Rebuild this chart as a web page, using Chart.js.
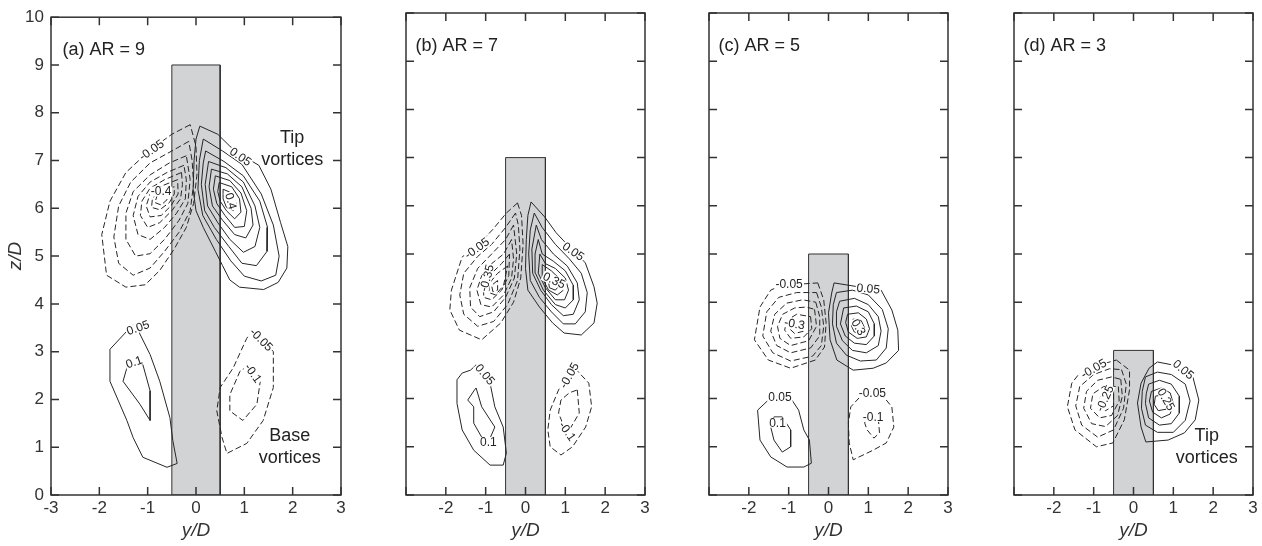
<!DOCTYPE html>
<html>
<head>
<meta charset="utf-8">
<script src="https://cdn.jsdelivr.net/npm/chart.js@4.4.1/dist/chart.umd.min.js"></script>
<style>
  body { margin: 0; background: #fff; width: 1262px; height: 546px; position: relative; overflow: hidden; }
  canvas { position: absolute; top: 0; }
</style>
</head>
<body>
<canvas id="pa" width="352" height="546" style="left:0px"></canvas>
<canvas id="pb" width="310" height="546" style="left:345px"></canvas>
<canvas id="pc" width="310" height="546" style="left:648px"></canvas>
<canvas id="pd" width="309" height="546" style="left:953px"></canvas>
<script>
// axes
const xTicks = [-3, -2, -1, 0, 1, 2, 3];
const yTicks = [0, 1, 2, 3, 4, 5, 6, 7, 8, 9, 10];
const aspectRatios = [9, 7, 5, 3]; // cylinder height in D
const panelLetters = ["a", "b", "c", "d"];

// contour levels, outer -> inner, each one a closed line of [y/D, z/D]
// (a) AR = 9
const aTipPos = [
  [[0.08,7.72],[0.45,7.55],[0.7,7.3],[1.0,7.08],[1.3,6.9],[1.55,6.4],[1.75,5.7],[1.9,5.2],[1.88,4.75],[1.7,4.45],[1.4,4.3],[0.9,4.35],[0.7,4.5],[0.55,4.8],[0.4,5.1],[0.15,5.6],[0.0,5.95],[-0.06,6.4],[-0.04,7.0],[0.0,7.45]],
  [[0.15,7.45],[0.55,7.2],[0.95,6.92],[1.35,6.3],[1.6,5.65],[1.72,5.0],[1.65,4.6],[1.35,4.48],[1.0,4.58],[0.72,4.9],[0.42,5.35],[0.14,5.85],[0.04,6.4],[0.07,7.0]],
  [[0.2,7.2],[0.58,6.98],[0.98,6.68],[1.32,6.15],[1.48,5.6],[1.47,5.1],[1.25,4.8],[0.95,4.85],[0.68,5.2],[0.38,5.6],[0.18,5.95],[0.11,6.5],[0.15,6.95]],
  [[0.26,6.98],[0.62,6.85],[0.98,6.55],[1.22,6.05],[1.32,5.6],[1.22,5.2],[0.98,5.08],[0.7,5.35],[0.45,5.7],[0.24,6.05],[0.19,6.5]],
  [[0.32,6.82],[0.65,6.72],[0.95,6.45],[1.14,6.0],[1.18,5.65],[1.03,5.38],[0.8,5.45],[0.55,5.75],[0.34,6.05],[0.27,6.45]],
  [[0.4,6.68],[0.7,6.58],[0.93,6.32],[1.05,5.95],[1.0,5.62],[0.8,5.6],[0.6,5.85],[0.43,6.1],[0.36,6.4]],
  [[0.48,6.54],[0.74,6.45],[0.9,6.2],[0.93,5.92],[0.8,5.78],[0.63,5.95],[0.5,6.15],[0.45,6.35]],
  [[0.56,6.4],[0.74,6.32],[0.83,6.1],[0.77,5.95],[0.63,6.02],[0.56,6.2]]
];
const aTipNeg = [
  [[-0.12,7.75],[-0.5,7.55],[-0.95,7.22],[-1.45,6.75],[-1.78,6.15],[-1.95,5.45],[-1.85,4.6],[-1.45,4.35],[-1.05,4.4],[-0.75,4.7],[-0.45,5.15],[-0.2,5.6],[-0.05,6.1],[0.02,6.7],[0.0,7.3]],
  [[-0.15,7.4],[-0.5,7.2],[-0.95,6.95],[-1.35,6.55],[-1.6,6.05],[-1.7,5.4],[-1.6,4.85],[-1.3,4.6],[-0.95,4.75],[-0.65,5.1],[-0.35,5.5],[-0.12,5.95],[-0.05,6.5],[-0.08,7.0]],
  [[-0.2,7.1],[-0.55,6.95],[-0.95,6.7],[-1.3,6.35],[-1.45,5.9],[-1.45,5.35],[-1.25,5.0],[-0.95,5.05],[-0.65,5.35],[-0.35,5.75],[-0.17,6.1],[-0.12,6.6]],
  [[-0.25,6.9],[-0.6,6.75],[-0.95,6.55],[-1.2,6.25],[-1.3,5.85],[-1.2,5.45],[-0.95,5.35],[-0.65,5.6],[-0.4,5.9],[-0.22,6.2],[-0.2,6.6]],
  [[-0.3,6.75],[-0.65,6.6],[-0.95,6.42],[-1.12,6.15],[-1.15,5.85],[-1.0,5.6],[-0.75,5.7],[-0.5,5.95],[-0.32,6.2],[-0.28,6.5]],
  [[-0.38,6.6],[-0.68,6.48],[-0.95,6.3],[-1.03,6.05],[-0.95,5.82],[-0.72,5.85],[-0.52,6.05],[-0.37,6.3]],
  [[-0.45,6.45],[-0.72,6.38],[-0.9,6.22],[-0.92,6.02],[-0.75,5.97],[-0.55,6.12],[-0.45,6.3]],
  [[-0.6,6.3],[-0.8,6.28],[-0.85,6.12],[-0.72,6.07],[-0.6,6.18]]
];
const aBasePos = [
  [[-1.3,3.57],[-1.22,3.49],[-0.95,2.94],[-0.75,2.38],[-0.54,1.62],[-0.48,1.14],[-0.39,0.66],[-0.6,0.58],[-1.1,0.79],[-1.3,1.2],[-1.43,1.56],[-1.78,2.38],[-1.78,3.05]],
  [[-1.43,2.8],[-1.1,2.73],[-0.95,2.18],[-0.95,1.56],[-1.16,1.9],[-1.51,2.38],[-1.43,2.66]]
];
const aBaseNeg = [
  [[1.18,3.46],[1.6,3.0],[1.6,2.25],[1.39,1.56],[1.05,1.08],[0.64,0.87],[0.54,1.2],[0.43,1.76],[0.5,2.25],[0.77,2.66],[1.05,3.28]],
  [[1.12,2.74],[1.33,2.38],[1.26,1.9],[0.97,1.56],[0.7,1.76],[0.7,2.1],[0.91,2.59]]
];

// (b) AR = 7
const bTipPos = [
  [[0.14,6.08],[0.48,5.77],[0.77,5.44],[1.18,5.08],[1.5,4.82],[1.72,4.32],[1.8,3.98],[1.72,3.57],[1.4,3.32],[0.97,3.36],[0.68,3.57],[0.35,3.9],[0.06,4.25],[0.0,4.7],[0.02,5.3],[0.06,5.8]],
  [[0.22,5.85],[0.42,5.55],[0.75,5.2],[1.1,4.9],[1.4,4.6],[1.55,4.2],[1.5,3.8],[1.25,3.55],[0.95,3.55],[0.65,3.8],[0.35,4.1],[0.12,4.45],[0.08,5.0],[0.12,5.5]],
  [[0.27,5.6],[0.4,5.3],[0.7,5.0],[1.05,4.75],[1.3,4.4],[1.35,4.05],[1.2,3.75],[0.95,3.72],[0.65,3.95],[0.38,4.25],[0.18,4.6],[0.16,5.1]],
  [[0.32,5.3],[0.42,5.0],[0.7,4.85],[1.0,4.65],[1.2,4.35],[1.2,4.05],[1.0,3.88],[0.75,3.95],[0.45,4.25],[0.25,4.6],[0.24,5.0]],
  [[0.36,5.0],[0.5,4.8],[0.75,4.7],[1.0,4.5],[1.08,4.25],[0.98,4.05],[0.75,4.05],[0.5,4.3],[0.32,4.6]],
  [[0.42,4.78],[0.65,4.65],[0.9,4.45],[0.95,4.25],[0.8,4.15],[0.58,4.25],[0.42,4.5]],
  [[0.55,4.6],[0.75,4.5],[0.85,4.35],[0.75,4.25],[0.6,4.3]]
];
const bTipNeg = [
  [[-0.2,6.06],[-0.48,5.85],[-0.83,5.5],[-1.24,5.15],[-1.59,4.94],[-1.86,4.25],[-1.9,3.84],[-1.66,3.42],[-1.1,3.22],[-0.62,3.57],[-0.3,4.0],[-0.12,4.5],[-0.06,5.2],[-0.1,5.8]],
  [[-0.25,5.85],[-0.5,5.55],[-0.85,5.2],[-1.2,4.95],[-1.55,4.6],[-1.65,4.15],[-1.55,3.75],[-1.2,3.5],[-0.8,3.6],[-0.45,3.95],[-0.2,4.45],[-0.14,5.1],[-0.18,5.6]],
  [[-0.3,5.6],[-0.5,5.3],[-0.85,5.0],[-1.2,4.7],[-1.4,4.3],[-1.38,3.9],[-1.15,3.7],[-0.8,3.8],[-0.5,4.1],[-0.28,4.5],[-0.22,5.0]],
  [[-0.35,5.3],[-0.55,5.0],[-0.85,4.8],[-1.1,4.55],[-1.22,4.25],[-1.12,3.95],[-0.85,3.9],[-0.55,4.15],[-0.35,4.5],[-0.3,4.9]],
  [[-0.4,5.0],[-0.6,4.8],[-0.85,4.6],[-1.05,4.35],[-1.05,4.1],[-0.85,4.05],[-0.6,4.25],[-0.42,4.55]],
  [[-0.45,4.75],[-0.7,4.6],[-0.9,4.4],[-0.92,4.2],[-0.75,4.15],[-0.55,4.35]],
  [[-0.7,4.45],[-0.85,4.35],[-0.82,4.22],[-0.7,4.25]]
];
const bBasePos = [
  [[-1.24,2.7],[-0.89,2.32],[-0.77,1.83],[-0.56,1.41],[-0.48,0.87],[-0.56,0.62],[-0.89,0.62],[-1.3,0.93],[-1.59,1.35],[-1.72,1.9],[-1.72,2.39],[-1.59,2.53],[-1.38,2.59]],
  [[-1.24,2.22],[-1.1,1.83],[-0.77,1.41],[-0.93,1.1],[-1.1,1.2],[-1.3,1.49],[-1.3,1.83],[-1.45,1.97],[-1.28,2.18]]
];
const bBaseNeg = [
  [[1.24,2.63],[1.59,2.32],[1.66,1.83],[1.51,1.41],[1.18,1.0],[0.89,0.83],[0.62,1.0],[0.56,1.35],[0.62,1.76],[0.83,2.18],[1.04,2.45]],
  [[1.3,2.18],[1.35,1.7],[1.1,1.35],[0.97,1.41],[0.83,1.7],[0.89,1.97],[1.1,2.12]]
];

// (c) AR = 5
const cTipPos = [
  [[0.14,4.4],[0.97,4.29],[1.32,4.25],[1.59,3.84],[1.74,3.42],[1.76,3.0],[1.45,2.74],[1.12,2.63],[0.62,2.59],[0.21,2.8],[0.04,3.22],[0.0,3.78],[0.08,4.19]],
  [[0.2,4.2],[0.6,4.25],[1.0,4.15],[1.35,3.85],[1.5,3.45],[1.45,3.05],[1.2,2.8],[0.8,2.78],[0.45,2.9],[0.2,3.15],[0.1,3.55],[0.12,3.95]],
  [[0.28,4.02],[0.65,4.08],[1.0,3.95],[1.25,3.7],[1.32,3.4],[1.25,3.1],[0.95,2.95],[0.6,3.0],[0.35,3.2],[0.2,3.5],[0.2,3.8]],
  [[0.38,3.88],[0.7,3.92],[1.0,3.8],[1.15,3.55],[1.15,3.3],[0.95,3.12],[0.65,3.15],[0.42,3.3],[0.3,3.55]],
  [[0.48,3.75],[0.75,3.78],[0.95,3.65],[1.03,3.45],[0.95,3.28],[0.72,3.25],[0.5,3.38],[0.43,3.58]],
  [[0.62,3.65],[0.82,3.62],[0.9,3.48],[0.82,3.35],[0.65,3.38],[0.58,3.5]]
];
const cTipNeg = [
  [[-0.27,4.4],[-0.12,4.05],[-0.06,3.57],[-0.1,3.07],[-0.33,2.8],[-0.95,2.63],[-1.51,2.8],[-1.86,3.22],[-1.72,3.9],[-1.45,4.25],[-1.16,4.36],[-0.99,4.36]],
  [[-0.3,4.2],[-0.18,3.9],[-0.12,3.5],[-0.18,3.1],[-0.4,2.88],[-0.95,2.78],[-1.4,2.95],[-1.65,3.3],[-1.55,3.8],[-1.25,4.1],[-0.8,4.2]],
  [[-0.32,4.0],[-0.22,3.7],[-0.22,3.3],[-0.45,3.05],[-0.95,2.95],[-1.3,3.1],[-1.45,3.4],[-1.35,3.75],[-1.05,3.98],[-0.65,4.05]],
  [[-0.35,3.85],[-0.3,3.5],[-0.5,3.2],[-0.95,3.1],[-1.22,3.25],[-1.28,3.5],[-1.15,3.75],[-0.85,3.88],[-0.55,3.9]],
  [[-0.45,3.7],[-0.42,3.45],[-0.62,3.28],[-0.95,3.25],[-1.1,3.42],[-1.05,3.62],[-0.8,3.75]],
  [[-0.6,3.58],[-0.62,3.4],[-0.85,3.35],[-0.98,3.45],[-0.88,3.6]]
];
const cBasePos = [
  [[-0.95,2.01],[-0.75,1.76],[-0.62,1.35],[-0.48,1.14],[-0.43,0.66],[-0.62,0.58],[-1.04,0.58],[-1.45,0.79],[-1.72,1.14],[-1.78,1.76],[-1.51,1.97],[-1.24,2.03]],
  [[-1.16,1.62],[-0.95,1.35],[-0.95,1.0],[-1.16,0.89],[-1.37,1.14],[-1.45,1.41],[-1.37,1.62]]
];
const cBaseNeg = [
  [[0.83,2.07],[1.08,2.12],[1.39,2.03],[1.59,1.83],[1.64,1.41],[1.45,1.08],[1.12,0.93],[0.62,0.73],[0.52,1.08],[0.5,1.49],[0.56,1.83]],
  [[0.93,1.62],[1.24,1.7],[1.28,1.29],[1.14,1.18],[0.97,1.35],[0.91,1.49]]
];

// (d) AR = 3
const dTipPos = [
  [[0.6,2.76],[1.22,2.66],[1.49,2.45],[1.64,1.97],[1.55,1.56],[1.28,1.29],[0.87,1.14],[0.31,1.1],[0.19,1.41],[0.1,1.91],[0.19,2.32],[0.39,2.63]],
  [[0.3,2.45],[0.6,2.55],[0.95,2.5],[1.3,2.3],[1.42,1.95],[1.3,1.55],[1.0,1.3],[0.6,1.3],[0.3,1.45],[0.2,1.8],[0.22,2.15]],
  [[0.38,2.3],[0.65,2.38],[0.95,2.3],[1.15,2.05],[1.15,1.7],[0.95,1.48],[0.65,1.45],[0.38,1.6],[0.3,1.9],[0.32,2.1]],
  [[0.45,2.15],[0.7,2.22],[0.92,2.12],[1.0,1.9],[0.92,1.68],[0.7,1.6],[0.48,1.72],[0.4,1.95]],
  [[0.55,2.05],[0.75,2.08],[0.88,1.95],[0.82,1.78],[0.62,1.75],[0.52,1.88]]
];
const dTipNeg = [
  [[-0.43,2.8],[-0.1,2.59],[-0.1,2.18],[-0.23,1.56],[-0.52,1.08],[-0.93,1.0],[-1.47,1.35],[-1.66,1.83],[-1.55,2.32],[-1.35,2.53],[-1.06,2.65]],
  [[-0.3,2.6],[-0.18,2.3],[-0.25,1.8],[-0.5,1.35],[-0.9,1.2],[-1.3,1.45],[-1.45,1.85],[-1.35,2.25],[-1.0,2.5],[-0.6,2.62]],
  [[-0.32,2.4],[-0.28,2.05],[-0.4,1.65],[-0.7,1.42],[-1.05,1.48],[-1.25,1.8],[-1.18,2.15],[-0.9,2.38],[-0.55,2.45]],
  [[-0.38,2.25],[-0.36,1.95],[-0.55,1.65],[-0.85,1.6],[-1.08,1.8],[-1.02,2.1],[-0.75,2.25]],
  [[-0.5,2.1],[-0.5,1.85],[-0.7,1.75],[-0.9,1.85],[-0.82,2.05]]
];

// contour value labels: [text, y/D, z/D, angle in degrees]
const aLevelLabels = [["-0.05",-0.92,7.22,-35],["-0.4",-0.72,6.35,0],["0.05",0.92,7.08,35],["0.4",0.72,6.15,75],
  ["0.05",-1.2,3.5,-20],["0.1",-1.28,2.78,-20],["-0.05",1.35,3.25,45],["-0.1",1.18,2.55,55]];
const bLevelLabels = [["-0.05",-1.22,5.12,-35],["-0.35",-0.97,4.5,-75],["0.05",1.2,5.05,35],["0.35",0.72,4.45,25],
  ["0.05",-1.02,2.5,50],["0.1",-0.93,1.1,0],["-0.05",1.1,2.48,-60],["-0.1",1.05,1.32,55]];
const cLevelLabels = [["-0.05",-0.99,4.37,0],["-0.3",-0.85,3.55,10],["0.05",1.0,4.28,5],["0.3",0.75,3.48,60],
  ["0.05",-1.22,2.02,0],["0.1",-1.28,1.5,0],["-0.05",1.1,2.12,0],["-0.1",1.12,1.62,0]];
const dLevelLabels = [["-0.05",-1.0,2.62,-30],["-0.25",-0.72,2.0,-65],["0.05",1.25,2.6,40],["0.25",0.82,1.98,60]];

// notes: [text lines, y/D, z/D of first line]
const aNotes = [[["Tip", "vortices"], 1.99, 7.47], [["Base", "vortices"], 1.94, 1.24]];
const dNotes = [[["Tip", "vortices"], 1.84, 1.22]];

const lineColor = "#262626";
const fontFamily = "'Liberation Sans', Arial, sans-serif";

function toPoints(ring) {
  const pts = ring.map((p) => ({ x: p[0], y: p[1] }));
  pts.push({ x: ring[0][0], y: ring[0][1] }); // close the loop
  return pts;
}

function contourSets(rings, dashed) {
  return rings.map((ring) => ({
    data: toPoints(ring),
    showLine: true,
    pointRadius: 0,
    borderColor: lineColor,
    borderWidth: 1,
    borderDash: dashed ? [6, 3] : [],
    tension: 0,
    fill: false,
    order: 1,
  }));
}

// frame round the plot with inward ticks on all four sides
const framePlugin = {
  id: "frame",
  afterDraw(chart) {
    const { ctx, chartArea: a, scales } = chart;
    ctx.save();
    ctx.strokeStyle = "#333";
    ctx.lineWidth = 1.5;
    ctx.strokeRect(a.left, a.top, a.right - a.left, a.bottom - a.top);
    ctx.beginPath();
    xTicks.forEach((v) => {
      const px = scales.x.getPixelForValue(v);
      ctx.moveTo(px, a.bottom); ctx.lineTo(px, a.bottom - 8);
      ctx.moveTo(px, a.top); ctx.lineTo(px, a.top + 8);
    });
    yTicks.forEach((v) => {
      const py = scales.y.getPixelForValue(v);
      ctx.moveTo(a.left, py); ctx.lineTo(a.left + 8, py);
      ctx.moveTo(a.right, py); ctx.lineTo(a.right - 8, py);
    });
    ctx.stroke();
    ctx.restore();
  },
};

// contour value labels and notes
const textPlugin = {
  id: "texts",
  afterDatasetsDraw(chart, args, opts) {
    const { ctx, scales } = chart;
    ctx.save();
    ctx.font = "12px " + fontFamily;
    ctx.textAlign = "center";
    ctx.textBaseline = "middle";
    opts.levels.forEach(([t, x, y, rot]) => {
      const px = scales.x.getPixelForValue(x);
      const py = scales.y.getPixelForValue(y);
      ctx.save();
      ctx.translate(px, py);
      ctx.rotate((rot * Math.PI) / 180);
      const w = ctx.measureText(t).width;
      ctx.fillStyle = "#fff";
      ctx.fillRect(-w / 2 - 1, -5, w + 2, 10);
      ctx.fillStyle = "#222";
      ctx.fillText(t, 0, 0.5);
      ctx.restore();
    });
    ctx.font = "18px " + fontFamily;
    ctx.fillStyle = "#222";
    opts.notes.forEach(([lines, x, y]) => {
      const px = scales.x.getPixelForValue(x);
      const py = scales.y.getPixelForValue(y);
      lines.forEach((l, i) => ctx.fillText(l, px, py + i * 22));
    });
    ctx.textAlign = "left";
    ctx.fillText(opts.title, scales.x.getPixelForValue(-2.76), scales.y.getPixelForValue(9.32));
    ctx.restore();
  },
};

const panels = [
  { id: "pa", tipPos: aTipPos, tipNeg: aTipNeg, basePos: aBasePos, baseNeg: aBaseNeg, levels: aLevelLabels, notes: aNotes, padL: 0, padR: 11 },
  { id: "pb", tipPos: bTipPos, tipNeg: bTipNeg, basePos: bBasePos, baseNeg: bBaseNeg, levels: bLevelLabels, notes: [], padL: 10, padR: 10 },
  { id: "pc", tipPos: cTipPos, tipNeg: cTipNeg, basePos: cBasePos, baseNeg: cBaseNeg, levels: cLevelLabels, notes: [], padL: 10, padR: 10 },
  { id: "pd", tipPos: dTipPos, tipNeg: dTipNeg, basePos: [], baseNeg: [], levels: dLevelLabels, notes: dNotes, padL: 10, padR: 9 },
];

panels.forEach((p, i) => {
  const h = aspectRatios[i];
  const first = i === 0;
  const cylinder = {
    data: toPoints([[-0.5, 0], [-0.5, h], [0.5, h], [0.5, 0]]),
    showLine: true,
    pointRadius: 0,
    borderColor: "#333",
    borderWidth: 1,
    backgroundColor: "#d1d3d4",
    fill: "shape",
    tension: 0,
    order: 5,
  };
  const datasets = [cylinder]
    .concat(contourSets(p.tipPos, false))
    .concat(contourSets(p.tipNeg, true))
    .concat(contourSets(p.basePos, false))
    .concat(contourSets(p.baseNeg, true));

  new Chart(document.getElementById(p.id), {
    type: "scatter",
    data: { datasets: datasets },
    options: {
      responsive: false,
      animation: false,
      devicePixelRatio: 1,
      events: [],
      layout: { padding: { top: 13, left: p.padL, right: p.padR, bottom: 0 } },
      plugins: {
        legend: { display: false },
        tooltip: { enabled: false },
        texts: { levels: p.levels, notes: p.notes, title: "(" + panelLetters[i] + ") AR = " + h },
      },
      scales: {
        x: {
          type: "linear",
          min: -3,
          max: 3,
          grid: { display: false, drawTicks: false },
          border: { display: false },
          afterFit: (s) => { s.height = 51; },
          ticks: {
            stepSize: 1,
            padding: 3,
            color: "#333",
            font: { family: fontFamily, size: 17 },
            callback: (v) => (!first && v === -3 ? "" : String(v)),
          },
          title: {
            display: true,
            text: "y/D",
            color: "#333",
            padding: 4,
            font: { family: fontFamily, size: 19, style: "italic" },
          },
        },
        y: {
          type: "linear",
          min: 0,
          max: 10,
          display: first,
          grid: { display: false, drawTicks: false },
          border: { display: false },
          afterFit: (s) => { s.width = 51; },
          ticks: {
            stepSize: 1,
            padding: 7,
            color: "#333",
            font: { family: fontFamily, size: 17 },
          },
          title: {
            display: true,
            text: "z/D",
            color: "#333",
            padding: 4,
            font: { family: fontFamily, size: 19, style: "italic" },
          },
        },
      },
    },
    plugins: [framePlugin, textPlugin],
  });
});
</script>
</body>
</html>
